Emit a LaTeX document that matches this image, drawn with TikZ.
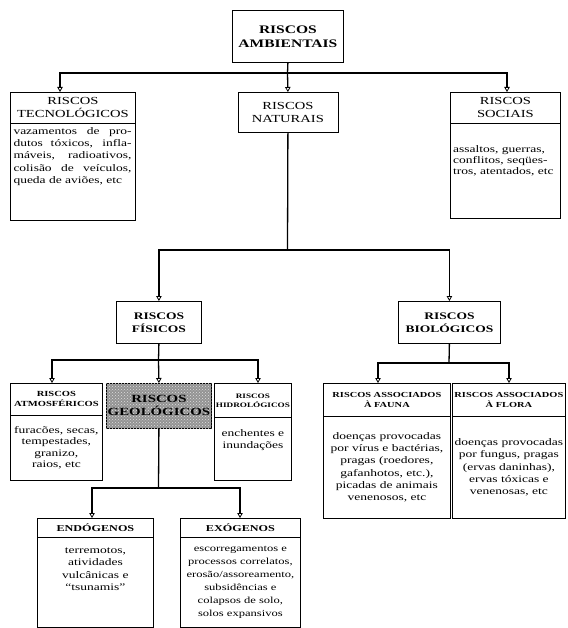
\documentclass[tikz,border=0pt]{standalone}
\usepackage{fontspec}
\setmainfont{Liberation Serif}[FakeStretch=1.35]
\usetikzlibrary{arrows.meta,patterns}
\begin{document}
\begin{tikzpicture}[x=1pt,y=-1pt,
  box/.style={draw, line width=0.8pt, inner sep=0pt, anchor=north west, align=center},
  line/.style={line width=1.3pt},
  conn/.style={line width=1.3pt, -{Triangle[open,length=5pt,width=5.5pt,line width=0.8pt]}},
  fbig/.style={font=\fontsize{11.5}{14}\selectfont\bfseries},
  fhdr/.style={font=\fontsize{10.8}{13}\selectfont},
  fmid/.style={font=\fontsize{10}{13}\selectfont\bfseries},
  fsmall/.style={font=\fontsize{7.7}{10.5}\selectfont\bfseries},
  fbody/.style={font=\fontsize{10}{12.3}\selectfont},
]
\useasboundingbox (0,0) rectangle (567,628);

% top
\node[box, fbig, minimum width=111, minimum height=52] (amb) at (232,10) {RISCOS\\AMBIENTAIS};

% tecnologicos
\node[box, fhdr, minimum width=125, minimum height=31] (tec) at (10,92) {RISCOS\\TECNOLÓGICOS};
\node[box, minimum width=125, minimum height=97] (tecb) at (10,123) {};
\node[fbody, anchor=north, text width=118, align=justify, inner sep=0pt] (tect) at (72.5,127)
  {vazamentos de pro-\linebreak dutos tóxicos, infla-\linebreak máveis, radioativos,\linebreak colisão de veículos,\linebreak queda de aviões, etc};

% naturais
\node[box, fhdr, minimum width=100, minimum height=40] (nat) at (237.5,92) {RISCOS\\NATURAIS};

% sociais
\node[box, fhdr, minimum width=110, minimum height=31] (soc) at (450,92) {RISCOS\\SOCIAIS};
\node[box, minimum width=110, minimum height=95] (socb) at (450,123) {};
\node[fbody, anchor=north west, align=left, inner sep=0pt, font=\fontsize{10}{11.2}\selectfont] (soct) at (453,145)
  {assaltos, guerras,\\conflitos, seqües-\\tros, atentados, etc};

% fisicos / biologicos
\node[box, fmid, minimum width=85, minimum height=42] (fis) at (116,301) {RISCOS\\FÍSICOS};
\node[box, fmid, minimum width=102, minimum height=42] (bio) at (398,301) {RISCOS\\BIOLÓGICOS};

% atmosfericos
\node[box, font=\fontsize{7.8}{10}\selectfont\bfseries, minimum width=92, minimum height=32] (atm) at (10,383) {RISCOS\\ATMOSFÉRICOS};
\node[box, font=\fontsize{10}{11.5}\selectfont, minimum width=92, minimum height=65] (atmb) at (10,415)
  {furacões, secas,\\tempestades,\\granizo,\\raios, etc};

% geologicos
\node[box, font=\fontsize{11}{13}\selectfont\bfseries, minimum width=105, minimum height=45,
  fill=gray!85, postaction={pattern=crosshatch dots, pattern color=gray!25}] (geo) at (106,383) {RISCOS\\GEOLÓGICOS};

% hidrologicos
\node[box, font=\fontsize{6.8}{9}\selectfont\bfseries, minimum width=77, minimum height=34] (hid) at (214,383) {RISCOS\\HIDROLÓGICOS};
\node[box, fbody, minimum width=77, minimum height=63] (hidb) at (214,417) {enchentes e\\inundações\\[8pt]};

% fauna / flora
\node[box, fsmall, minimum width=127, minimum height=33] (fau) at (323,383) {RISCOS ASSOCIADOS\\À FAUNA};
\node[box, fbody, minimum width=127, minimum height=102] (faub) at (323,416)
  {doenças provocadas\\por vírus e bactérias,\\pragas (roedores,\\gafanhotos, etc.),\\picadas de animais\\venenosos, etc};
\node[box, fsmall, minimum width=113, minimum height=33] (flo) at (452,383) {RISCOS ASSOCIADOS\\À FLORA};
\node[box, fbody, minimum width=113, minimum height=102] (flob) at (452,416)
  {doenças provocadas\\por fungus, pragas\\(ervas daninhas),\\ervas tóxicas e\\venenosas, etc};

% endogenos / exogenos
\node[box, font=\fontsize{9}{11}\selectfont\bfseries, minimum width=116, minimum height=19] (end) at (37,518) {ENDÓGENOS};
\node[box, fbody, minimum width=116, minimum height=90] (endb) at (37,537)
  {terremotos,\\atividades\\vulcânicas e\\“tsunamis”\\[14pt]};
\node[box, font=\fontsize{9}{11}\selectfont\bfseries, minimum width=120, minimum height=19] (exo) at (180,518) {EXÓGENOS};
\node[box, font=\fontsize{9.3}{13}\selectfont, minimum width=120, minimum height=90] (exob) at (180,537)
  {escorregamentos e\\processos correlatos,\\erosão/assoreamento,\\subsidências e\\colapsos de solo,\\solos expansivos};

% junctions
\coordinate (j1) at (287.5,73);
\coordinate (tecin) at (60,92);
\coordinate (socin) at (507,92);
\coordinate (j2) at (287.5,250);
\coordinate (j3) at (158.5,360);
\coordinate (atmin) at (52,383);
\coordinate (hidin) at (258,383);
\coordinate (j4) at (158.5,488);
\coordinate (endin) at (92,518);
\coordinate (exoin) at (240,518);
\coordinate (j5) at (449,363);
\coordinate (fauin) at (378,383);
\coordinate (floin) at (509,383);

% connectors
\draw[line] (amb.south) -- (j1);
\draw[conn] (j1) -| (tecin);
\draw[conn] (j1) -- (nat.north);
\draw[conn] (j1) -| (socin);

\draw[line] (nat.south) -- (j2);
\draw[conn] (j2) -| (fis.north);
\draw[conn] (j2) -| (bio.north);

\draw[line] (fis.south) -- (j3);
\draw[conn] (j3) -| (atmin);
\draw[conn] (j3) -- (geo.north);
\draw[conn] (j3) -| (hidin);

\draw[line] (geo.south) -- (j4);
\draw[conn] (j4) -| (endin);
\draw[conn] (j4) -| (exoin);

\draw[line] (bio.south) -- (j5);
\draw[conn] (j5) -| (fauin);
\draw[conn] (j5) -| (floin);
\end{tikzpicture}
\end{document}
